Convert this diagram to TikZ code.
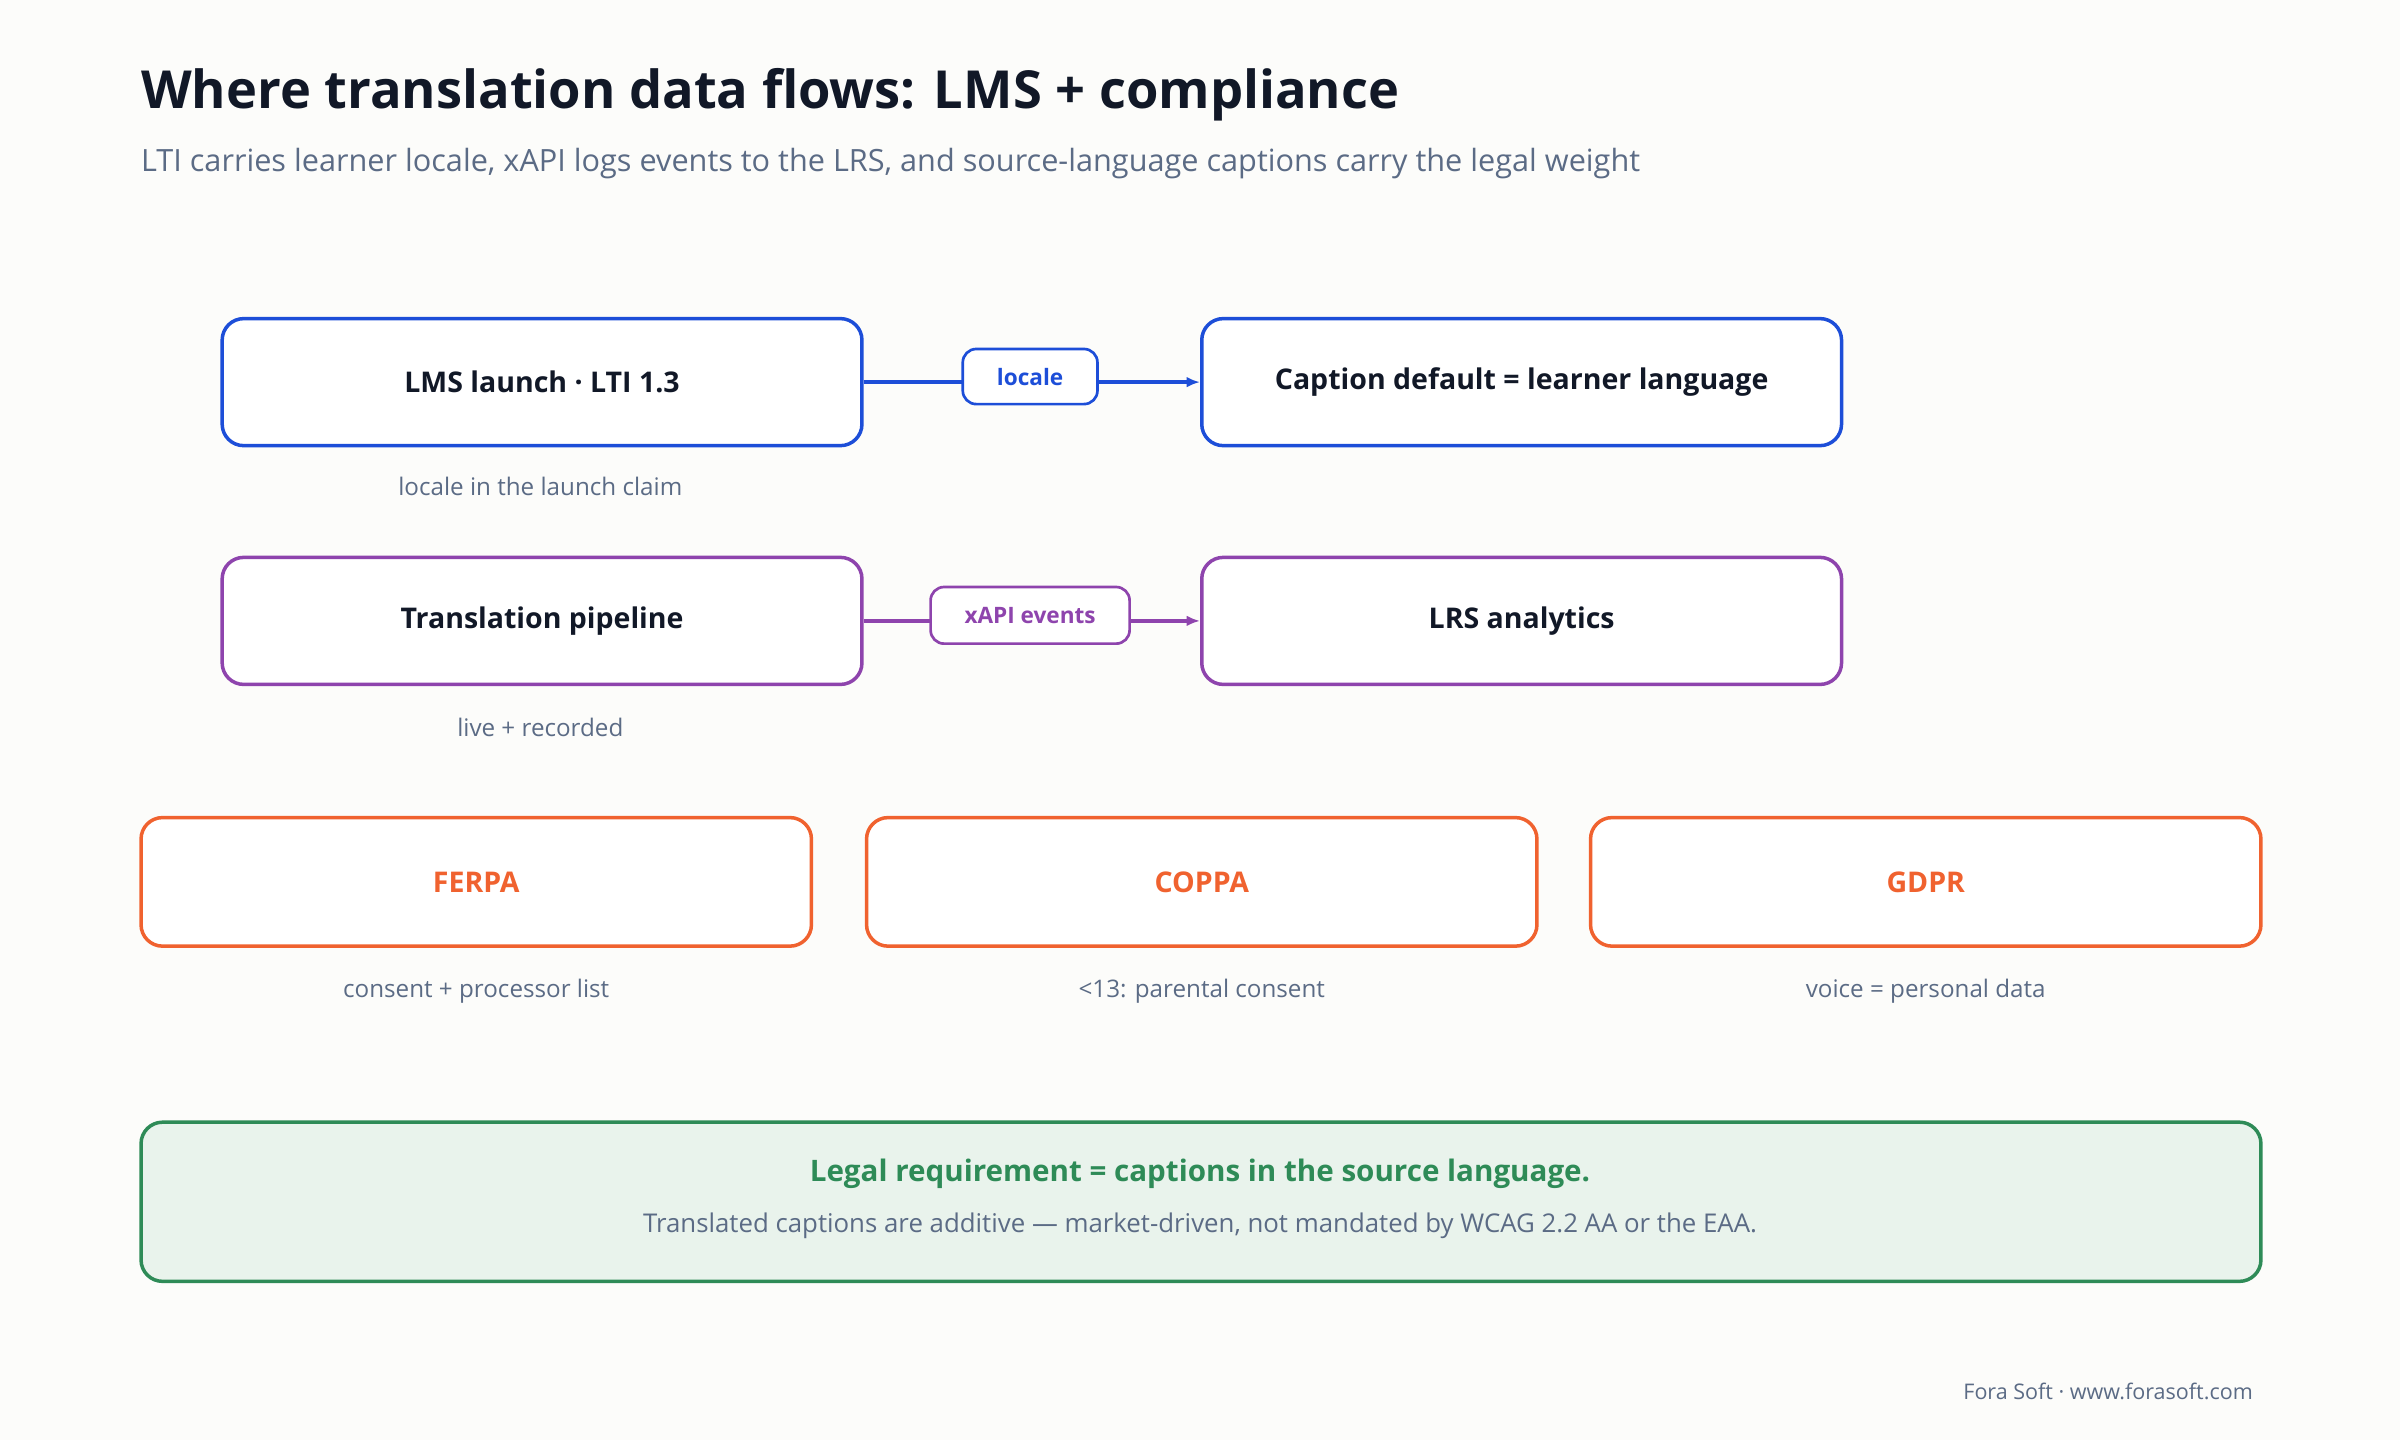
\documentclass[tikz,border=0pt]{standalone}
\usepackage{fontspec}
\setmainfont{Open Sans}
\usetikzlibrary{arrows.meta}
\definecolor{bg}{HTML}{FCFCFA}
\definecolor{ink}{HTML}{111827}
\definecolor{mut}{HTML}{5B6B85}
\definecolor{cb}{HTML}{1D4ED8}
\definecolor{cp}{HTML}{8E44AD}
\definecolor{co}{HTML}{F0622F}
\definecolor{cg}{HTML}{2E8B57}
\definecolor{gf}{HTML}{E9F3EC}
\begin{document}
\begin{tikzpicture}[x=0.02cm,y=-0.02cm,
 box/.style={draw=#1,line width=1.3pt,rounded corners=8pt,fill=white,anchor=north west,inner sep=0pt},
 bt/.style={font=\fontsize{10.6}{13}\selectfont\bfseries,text=ink},
 capt/.style={font=\fontsize{9}{11}\selectfont,text=mut},
 lab/.style={draw=#1,text=#1,line width=1pt,rounded corners=5pt,fill=white,font=\fontsize{8.4}{10}\selectfont\bfseries,inner sep=0pt},
 arr/.style={draw=#1,line width=1.3pt,-{Latex[length=5pt,width=4pt]}}]
\fill[bg] (0,0) rectangle (1568,941);
\node[anchor=west,font=\fontsize{19.5}{24}\selectfont\bfseries,text=ink] (title) at (86,62) {Where translation data flows: LMS + compliance};
\node[anchor=west,font=\fontsize{11.4}{14}\selectfont,text=mut] (sub) at (86,107) {LTI carries learner locale, xAPI logs events to the LRS, and source-language captions carry the legal weight};
% row 1
\node[box=cb,minimum width=418*0.02cm,minimum height=83*0.02cm] (lms) at (144,207) {};
\node[bt] at (lms.center) {LMS launch · LTI 1.3};
\node[box=cb,minimum width=418*0.02cm,minimum height=83*0.02cm] (cd) at (784,207) {};
\node[bt] at (cd.center) {Caption default = learner language};
\draw[arr=cb] (lms.east) -- (cd.west);
\node[lab=cb,minimum width=88*0.02cm,minimum height=36*0.02cm] (loc) at (673,246) {locale};
\node[capt] (c1) at (353,318) {locale in the launch claim};
% row 2
\node[box=cp,minimum width=418*0.02cm,minimum height=83*0.02cm] (tp) at (144,363) {};
\node[bt] at (tp.center) {Translation pipeline};
\node[box=cp,minimum width=418*0.02cm,minimum height=83*0.02cm] (lrs) at (784,363) {};
\node[bt] at (lrs.center) {LRS analytics};
\draw[arr=cp] (tp.east) -- (lrs.west);
\node[lab=cp,minimum width=130*0.02cm,minimum height=37*0.02cm] (xa) at (673,402) {xAPI events};
\node[capt] (c2) at (353,475) {live + recorded};
% row 3
\foreach \n/\x/\t/\c in {fe/91/FERPA/consent + processor list, cop/565/COPPA/<13: parental consent, gd/1038/GDPR/voice = personal data}{
 \node[box=co,minimum width=438*0.02cm,minimum height=84*0.02cm] (\n) at (\x,533) {};
 \node[bt,text=co] at (\n.center) {\t};
 \node[capt] at ([yshift=-0.56cm]\n.south) {\c};
}
% green
\node[box=cg,fill=gf,minimum width=1385*0.02cm,minimum height=104*0.02cm] (leg) at (91,732) {};
\node[font=\fontsize{11}{13}\selectfont\bfseries,text=cg] at (784,767) {Legal requirement = captions in the source language.};
\node[capt,font=\fontsize{9.6}{12}\selectfont] at (784,801) {Translated captions are additive — market-driven, not mandated by WCAG 2.2 AA or the EAA.};
\node[anchor=east,font=\fontsize{8}{10}\selectfont,text=mut] (ft) at (1478,909) {Fora Soft · www.forasoft.com};
\end{tikzpicture}
\end{document}
